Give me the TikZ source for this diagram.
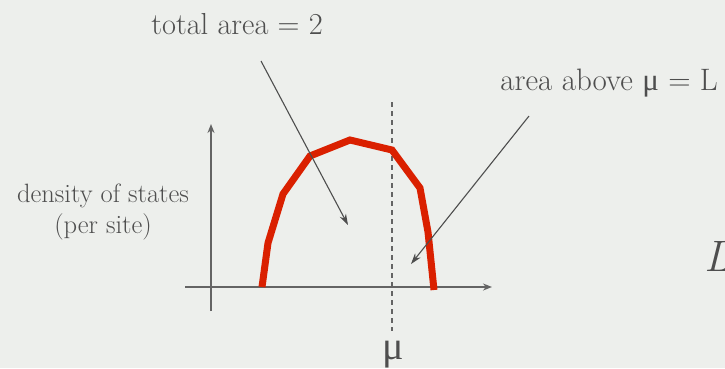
\documentclass[tikz,border=0pt]{standalone}
\usepackage{fontspec}
\newfontfamily\libserif{Liberation Serif}
\usetikzlibrary{arrows.meta}
\definecolor{bgcol}{RGB}{237,239,236}
\definecolor{inkcol}{RGB}{78,78,78}
\definecolor{axiscol}{RGB}{100,100,100}
\definecolor{doscol}{RGB}{218,32,0}
\tikzset{
  axisline/.style={draw=axiscol, line width=1.7pt, -{Stealth[length=9pt,width=7pt]}},
  pointer/.style={draw=inkcol, line width=1.1pt, -{Stealth[length=11pt,width=7pt]}},
  fermiline/.style={draw=axiscol, line width=1.3pt, dash pattern=on 5pt off 4pt},
  doscurve/.style={draw=doscol, line width=7pt, line join=miter},
  lbl/.style={text=inkcol, inner sep=0pt},
}
\begin{document}
\begin{tikzpicture}[x=1pt,y=-1pt]
\fill[bgcol] (0,0) rectangle (725,368);
\useasboundingbox (0,0) rectangle (725,368);
\clip (0,0) rectangle (725,368);

% axes
\coordinate (xstart) at (185,287);
\coordinate (xend) at (492,287);
\coordinate (ystart) at (211,311);
\coordinate (yend) at (211,124);
\draw[axisline] (xstart) -- (xend);
\draw[axisline] (ystart) -- (yend);

% chemical potential
\coordinate (mutop) at (392,102);
\coordinate (mubot) at (392,331);
\draw[fermiline] (mutop) -- (mubot);

% density of states
\coordinate (d1) at (262,287);
\coordinate (d2) at (268,243);
\coordinate (d3) at (283,194);
\coordinate (d4) at (310,156);
\coordinate (d5) at (350,140);
\coordinate (d6) at (392,150);
\coordinate (d7) at (420,188);
\coordinate (d8) at (428,232);
\coordinate (d9) at (434,290);
\draw[doscurve] (d1) -- (d2) -- (d3) -- (d4) -- (d5) -- (d6) -- (d7) -- (d8) -- (d9);

% labels
\node[lbl, anchor=base, font=\fontsize{30.4}{34}\selectfont] (total) at (237,34) {total area = 2};
\node[lbl, anchor=base east, font=\fontsize{31}{34}\selectfont] (above) at (718,90) {area above {\libserif μ} = L};
\node[lbl, anchor=base, font=\fontsize{26.5}{30}\selectfont] (dos1) at (103,202) {density of states};
\node[lbl, anchor=base, font=\fontsize{26.5}{30}\selectfont] (dos2) at (103,233) {(per site)};
\node[lbl, anchor=base, font=\fontsize{40}{44}\selectfont\libserif] (mulabel) at (393,359) {μ};
\node[lbl, anchor=base west, font=\fontsize{44}{48}\selectfont\itshape] (bigL) at (704,271) {L};

% pointers
\coordinate (p1s) at (261,61);
\coordinate (p1e) at (348,225);
\coordinate (p2s) at (529,116);
\coordinate (p2e) at (411,264);
\draw[pointer] (p1s) -- (p1e);
\draw[pointer] (p2s) -- (p2e);
\end{tikzpicture}
\end{document}
